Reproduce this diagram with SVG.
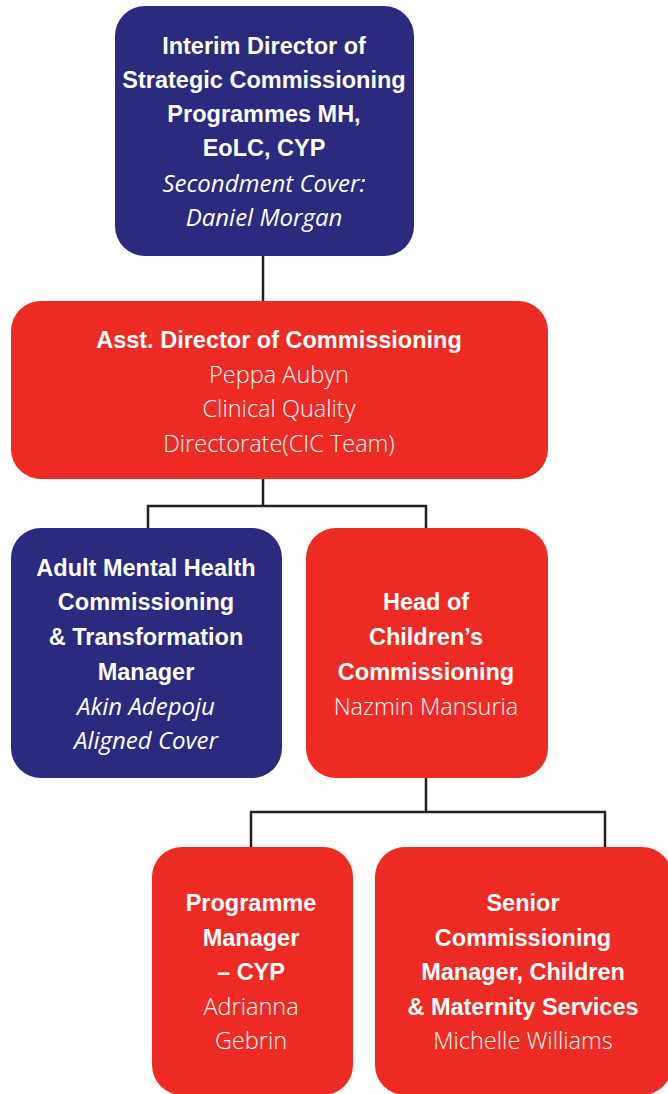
<svg xmlns="http://www.w3.org/2000/svg" width="668" height="1094" viewBox="0 0 668 1094">
<style>
.blue{fill:#2B2A7F}
.red{fill:#EE2A24}
text{font-family:"Liberation Sans","Open Sans",sans-serif;fill:#fff;text-anchor:middle;font-size:23.5px}
.b{font-weight:bold}
.l{font-family:"Open Sans","Liberation Sans",sans-serif;font-weight:300;font-size:23.5px}
.i{font-family:"Open Sans","Liberation Sans",sans-serif;font-style:italic;font-weight:400;font-size:24px}
.conn{fill:none;stroke:#231F20;stroke-width:2.5}
</style>
<g id="connectors">
<path class="conn" d="M263,256V301"/>
<path class="conn" d="M263,479V506H148V529M263,506H426V529"/>
<path class="conn" d="M426,778V812H251V847M426,812H605V847"/>
</g>
<g id="node-director">
<rect class="blue" x="115" y="6" width="299" height="250" rx="30"/>
<text class="b" x="264" y="54">Interim Director of</text>
<text class="b" x="264" y="88">Strategic Commissioning</text>
<text class="b" x="264" y="122">Programmes MH,</text>
<text class="b" x="264" y="156">EoLC, CYP</text>
<text class="i" x="264" y="192">Secondment Cover:</text>
<text class="i" x="264" y="226">Daniel Morgan</text>
</g>
<g id="node-asst">
<rect class="red" x="11" y="301" width="537" height="178" rx="30"/>
<text class="b" x="279" y="348">Asst. Director of Commissioning</text>
<text class="l" x="279" y="383">Peppa Aubyn</text>
<text class="l" x="279" y="417">Clinical Quality</text>
<text class="l" x="279" y="452">Directorate(CIC Team)</text>
</g>
<g id="node-adult">
<rect class="blue" x="11" y="528" width="271" height="250" rx="30"/>
<text class="b" x="146" y="576">Adult Mental Health</text>
<text class="b" x="146" y="610">Commissioning</text>
<text class="b" x="146" y="645">&amp; Transformation</text>
<text class="b" x="146" y="680">Manager</text>
<text class="i" x="146" y="715">Akin Adepoju</text>
<text class="i" x="146" y="749">Aligned Cover</text>
</g>
<g id="node-head">
<rect class="red" x="306" y="528" width="242" height="250" rx="30"/>
<text class="b" x="426" y="610">Head of</text>
<text class="b" x="426" y="645">Children’s</text>
<text class="b" x="426" y="680">Commissioning</text>
<text class="l" x="426" y="715">Nazmin Mansuria</text>
</g>
<g id="node-programme">
<rect class="red" x="152" y="847" width="201" height="248" rx="30"/>
<text class="b" x="251" y="911">Programme</text>
<text class="b" x="251" y="946">Manager</text>
<text class="b" x="251" y="980">– CYP</text>
<text class="l" x="251" y="1015">Adrianna</text>
<text class="l" x="251" y="1049">Gebrin</text>
</g>
<g id="node-senior">
<rect class="red" x="375" y="847" width="297" height="248" rx="30"/>
<text class="b" x="523" y="911">Senior</text>
<text class="b" x="523" y="946">Commissioning</text>
<text class="b" x="523" y="980">Manager, Children</text>
<text class="b" x="523" y="1015">&amp; Maternity Services</text>
<text class="l" x="523" y="1049">Michelle Williams</text>
</g>
</svg>
